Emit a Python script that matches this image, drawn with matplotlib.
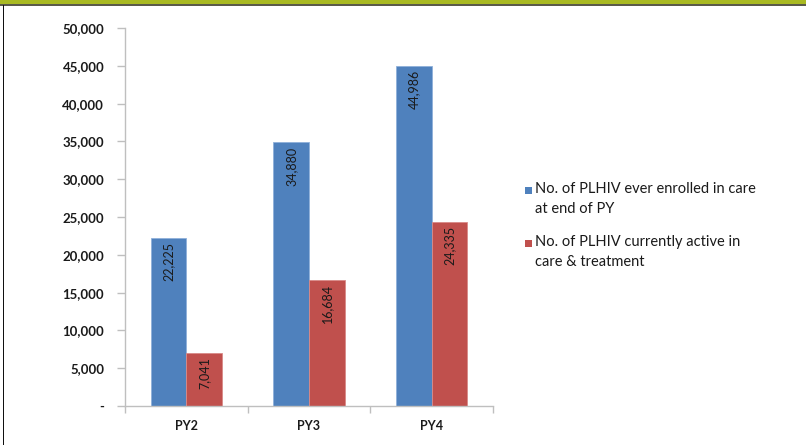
import matplotlib
matplotlib.use("Agg")
import matplotlib.pyplot as plt
from matplotlib.patches import Rectangle
from matplotlib.ticker import FuncFormatter, MultipleLocator
import numpy as np

categories = ["PY2", "PY3", "PY4"]
ever_enrolled = [22225, 34880, 44986]
currently_active = [7041, 16684, 24335]
series_names = [
    "No. of PLHIV ever enrolled in care\nat end of PY",
    "No. of PLHIV currently active in\ncare & treatment",
]

BLUE = "#4F81BD"
RED = "#C0504D"
FONT = ["Lato", "DejaVu Sans"]

plt.rcParams["font.family"] = FONT

fig = plt.figure(figsize=(8.06, 4.45), dpi=100)
fig.patch.set_facecolor("white")

# frame decoration: olive band on top, dark rule beneath it, black rule on the left
fig.patches.append(Rectangle((0, 1 - 4.5 / 445), 1, 4.5 / 445, transform=fig.transFigure,
                             facecolor="#A9BA22", edgecolor="none", zorder=0))
fig.patches.append(Rectangle((0, 1 - 6 / 445), 1, 1.6 / 445, transform=fig.transFigure,
                             facecolor="#5A5A4A", edgecolor="none", zorder=0))
fig.patches.append(Rectangle((2.5 / 806, 0), 1.8 / 806, 1 - 5 / 445, transform=fig.transFigure,
                             facecolor="#111111", edgecolor="none", zorder=0))

ax = fig.add_axes([125 / 806, 1 - 406 / 445, 368 / 806, 378 / 445])

x = np.arange(len(categories))
w = 0.29
b1 = ax.bar(x - w / 2, ever_enrolled, w, color=BLUE, edgecolor="#8FB0DA", linewidth=0.6, zorder=2)
b2 = ax.bar(x + w / 2, currently_active, w, color=RED, edgecolor="#D98A88", linewidth=0.6, zorder=2)

for bars, vals in ((b1, ever_enrolled), (b2, currently_active)):
    for rect, v in zip(bars, vals):
        ax.annotate(f"{v:,}", xy=(rect.get_x() + rect.get_width() / 2, v),
                    xytext=(0, -3), textcoords="offset points",
                    rotation=90, ha="center", va="top", fontsize=9,
                    color="#1a1a1a", zorder=3)

ax.set_xlim(-0.5, len(categories) - 0.5)
ax.set_ylim(0, 50000)
ax.yaxis.set_major_locator(MultipleLocator(5000))
ax.yaxis.set_major_formatter(FuncFormatter(lambda v, p: "-" if v == 0 else f"{int(v):,}"))

ax.set_xticks(x)
ax.set_xticklabels(categories, fontsize=9, fontweight="bold", color="#1a1a1a")
ax.tick_params(axis="x", length=0, pad=10)
ax.set_xticks(np.arange(-0.5, len(categories)), minor=True)
ax.tick_params(axis="x", which="minor", length=5, color="#BFBFBF", width=1)
ax.tick_params(axis="y", length=6, color="#BFBFBF", width=1, labelsize=9.5, pad=9,
               labelcolor="#1a1a1a")
for lbl in ax.get_yticklabels():
    lbl.set_fontweight("bold")

for side in ("top", "right"):
    ax.spines[side].set_visible(False)
for side in ("left", "bottom"):
    ax.spines[side].set_color("#BFBFBF")
    ax.spines[side].set_linewidth(1)

# legend entries
legend_rows = [(190, BLUE, series_names[0]), (243, RED, series_names[1])]
for ypix, col, label in legend_rows:
    fig.patches.append(Rectangle((525 / 806, 1 - (ypix + 4) / 445), 7 / 806, 7 / 445,
                                 transform=fig.transFigure, facecolor=col, edgecolor="none"))
    fig.text(535 / 806, 1 - (ypix - 8) / 445, label, fontsize=10.5, color="#1a1a1a",
             ha="left", va="top", linespacing=1.5)

fig.savefig("out.png", dpi=100, facecolor="white")
